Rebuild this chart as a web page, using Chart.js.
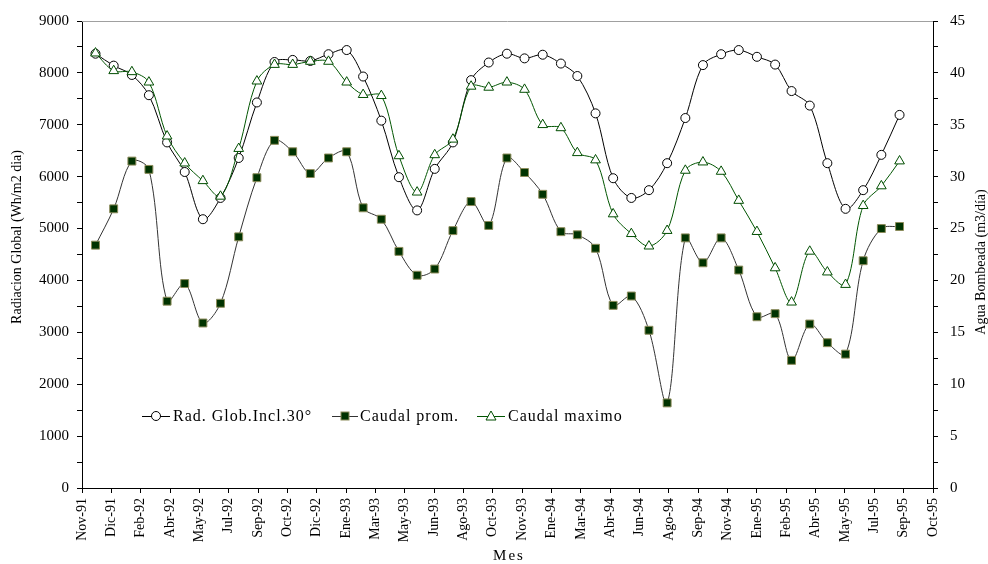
<!DOCTYPE html>
<html><head><meta charset="utf-8">
<script src="https://cdn.jsdelivr.net/npm/chart.js@4.4.1/dist/chart.umd.min.js"></script>
<style>html,body{margin:0;padding:0;background:#fff;} #wrap{width:988px;height:564px;position:relative;}</style>
</head><body><div id="wrap"><canvas id="c" width="988" height="564"></canvas></div>
<script>
// Monthly samples (first day of each month)
const meses = [
 '1991-12',
 '1992-01','1992-02','1992-03','1992-04','1992-05','1992-06','1992-07','1992-08','1992-09','1992-10','1992-11','1992-12',
 '1993-01','1993-02','1993-03','1993-04','1993-05','1993-06','1993-07','1993-08','1993-09','1993-10','1993-11','1993-12',
 '1994-01','1994-02','1994-03','1994-04','1994-05','1994-06','1994-07','1994-08','1994-09','1994-10','1994-11','1994-12',
 '1995-01','1995-02','1995-03','1995-04','1995-05','1995-06','1995-07','1995-08','1995-09'
];
// Rad. Glob. Incl. 30° (Wh/m2 dia) - left axis
const radGlob = [8370,8140,7960,7570,6660,6090,5180,5590,6360,7430,8210,8250,8230,8360,8440,7930,
 7080,5990,5350,6150,6660,7860,8200,8370,8280,8350,8180,7940,7220,5970,5590,5740,
 6260,7130,8150,8360,8440,8310,8160,7650,7370,6260,5380,5740,6420,7190];
// Caudal prom. (m3/dia) - right axis
const caudalProm = [23.4,26.9,31.5,30.7,18.0,19.7,15.9,17.8,24.2,29.9,33.5,32.4,30.3,31.8,32.4,27.0,
 25.9,22.8,20.5,21.1,24.8,27.6,25.3,31.8,30.4,28.3,24.7,24.4,23.1,17.6,18.5,15.2,
 8.2,24.1,21.7,24.1,21.0,16.5,16.8,12.3,15.8,14.0,12.9,21.9,25.0,25.2];
// Caudal maximo (m3/dia) - right axis
const caudalMax = [41.9,40.2,40.1,39.1,33.9,31.3,29.6,28.1,32.7,39.2,40.8,40.8,41.1,41.1,39.1,37.9,
 37.8,32.0,28.5,32.1,33.6,38.7,38.6,39.1,38.4,35.0,34.7,32.3,31.6,26.4,24.5,23.3,
 24.8,30.6,31.4,30.5,27.7,24.7,21.2,17.9,22.8,20.8,19.6,27.2,29.1,31.5];
const mesAbrev = ['Ene','Feb','Mar','Abr','May','Jun','Jul','Ago','Sep','Oct','Nov','Dic'];
const seriesNames = ['Rad. Glob.Incl.30°','Caudal prom.','Caudal maximo'];
const leftTitle = 'Radiacion Global (Wh/m2 dia)';
const rightTitle = 'Agua Bombeada (m3/día)';
const xTitle = 'Mes';

// x axis: days since the axis origin, ticks every 50 days
const axisOrigin = Date.UTC(1991, 10, 8);
const DAY = 86400000;
const xDays = meses.map(m => {
  const [y, mo] = m.split('-').map(Number);
  return (Date.UTC(y, mo - 1, 1) - axisOrigin) / DAY;
});
const toPts = arr => arr.map((v, i) => ({x: xDays[i], y: v}));

const FONT = '"Liberation Serif", "Times New Roman", serif';
const AREA = {left: 82, right: 933, top: 19, bottom: 488};

const extras = {
  id: 'extras',
  afterDraw(chart) {
    const ctx = chart.ctx;
    const ca = chart.chartArea;
    ctx.save();
    // top border
    ctx.strokeStyle = '#a0a0a0'; ctx.lineWidth = 1;
    ctx.beginPath(); ctx.moveTo(ca.left, ca.top + 0.5); ctx.lineTo(ca.right, ca.top + 0.5); ctx.stroke();
    // axis titles
    ctx.fillStyle = '#000';
    ctx.font = '14px ' + FONT;
    ctx.textAlign = 'center'; ctx.textBaseline = 'middle';
    ctx.save(); ctx.translate(17, 237); ctx.rotate(-Math.PI / 2); ctx.fillText(leftTitle, 0, 0); ctx.restore();
    ctx.save(); ctx.translate(981, 262); ctx.rotate(-Math.PI / 2); ctx.fillText(rightTitle, 0, 0); ctx.restore();
    ctx.save(); ctx.font = '15px ' + FONT; ctx.letterSpacing = '2px'; ctx.fillText(xTitle, 509, 556); ctx.restore();
    // legend
    const ly = 416;
    ctx.font = '16px ' + FONT; ctx.letterSpacing = '1px';
    ctx.textAlign = 'left'; ctx.textBaseline = 'middle';
    const items = [
      {x0: 142, x1: 170, tx: 173, type: 'circle', line: '#000'},
      {x0: 332, x1: 358, tx: 360, type: 'rect', line: '#333'},
      {x0: 477, x1: 505, tx: 508, type: 'tri', line: '#005500'}
    ];
    items.forEach((it, i) => {
      ctx.strokeStyle = it.line; ctx.lineWidth = 1;
      ctx.beginPath(); ctx.moveTo(it.x0, ly + 0.5); ctx.lineTo(it.x1, ly + 0.5); ctx.stroke();
      const cx = (it.x0 + it.x1) / 2;
      if (it.type === 'circle') {
        ctx.fillStyle = '#fff'; ctx.strokeStyle = '#000';
        ctx.beginPath(); ctx.arc(cx, ly, 4.5, 0, Math.PI * 2); ctx.fill(); ctx.stroke();
      } else if (it.type === 'rect') {
        ctx.fillStyle = '#003300'; ctx.strokeStyle = '#8c8c5a';
        ctx.fillRect(cx - 4, ly - 4, 8, 8); ctx.strokeRect(cx - 4, ly - 4, 8, 8);
      } else {
        ctx.fillStyle = '#fff'; ctx.strokeStyle = '#004d00';
        ctx.beginPath(); ctx.moveTo(cx, ly - 5); ctx.lineTo(cx + 5, ly + 4); ctx.lineTo(cx - 5, ly + 4); ctx.closePath(); ctx.fill(); ctx.stroke();
      }
      ctx.fillStyle = '#000';
      ctx.fillText(seriesNames[i], it.tx, ly + 1);
    });
    ctx.restore();
  }
};

new Chart(document.getElementById('c'), {
  type: 'line',
  data: {
    datasets: [
      {label: seriesNames[0], data: toPts(radGlob), yAxisID: 'y', order: 3,
       borderColor: '#000', borderWidth: 1, tension: 0.33,
       pointStyle: 'circle', pointRadius: 4.5, pointBackgroundColor: '#fff', pointBorderColor: '#000', pointBorderWidth: 1},
      {label: seriesNames[1], data: toPts(caudalProm), yAxisID: 'y1', order: 2,
       borderColor: '#333', borderWidth: 1, tension: 0.33,
       pointStyle: 'rect', pointRadius: 5.6, pointBackgroundColor: '#003300', pointBorderColor: '#8c8c5a', pointBorderWidth: 1},
      {label: seriesNames[2], data: toPts(caudalMax), yAxisID: 'y1', order: 1,
       borderColor: '#005500', borderWidth: 1, tension: 0.33,
       pointStyle: 'triangle', pointRadius: 5.6, pointBackgroundColor: '#fff', pointBorderColor: '#004d00', pointBorderWidth: 1}
    ]
  },
  options: {
    responsive: false, animation: false,
    layout: {padding: {top: AREA.top, left: 0, right: 0, bottom: 0}},
    plugins: {legend: {display: false}, tooltip: {enabled: false}},
    scales: {
      x: {
        type: 'linear', min: 0, max: 1450,
        afterFit: s => { s.height = 564 - AREA.bottom; },
        border: {color: '#000', width: 1},
        grid: {drawOnChartArea: false, drawTicks: true, tickLength: 5, color: '#000'},
        ticks: {
          stepSize: 50, autoSkip: false, minRotation: 90, maxRotation: 90, padding: 5,
          color: '#000', font: {family: FONT, size: 14},
          callback: v => { const d = new Date(axisOrigin + v * DAY); return mesAbrev[d.getUTCMonth()] + '-' + String(d.getUTCFullYear()).slice(2); }
        }
      },
      y: {
        position: 'left', min: 0, max: 9000,
        afterFit: s => { s.width = AREA.left; },
        border: {color: '#000', width: 1},
        grid: {drawOnChartArea: false, drawTicks: true, tickLength: 5, color: '#000'},
        ticks: {stepSize: 500, padding: 8, color: '#000', font: {family: FONT, size: 15},
          callback: v => (v % 1000 === 0 ? String(v) : '')}
      },
      y1: {
        position: 'right', min: 0, max: 45,
        afterFit: s => { s.width = 988 - AREA.right; },
        border: {color: '#000', width: 1},
        grid: {drawOnChartArea: false, drawTicks: true, tickLength: 5, color: '#000'},
        ticks: {stepSize: 2.5, padding: 12, color: '#000', font: {family: FONT, size: 15},
          callback: v => (v % 5 === 0 ? String(v) : '')}
      }
    }
  },
  plugins: [extras]
});
</script></body></html>
